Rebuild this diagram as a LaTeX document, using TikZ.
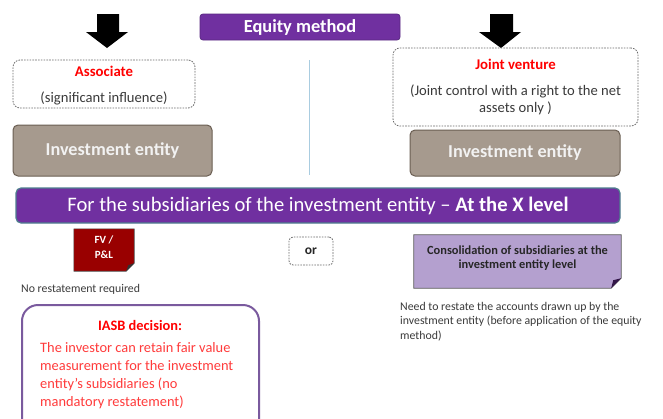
\documentclass[tikz,border=0pt]{standalone}
\usepackage{fontspec}
\setmainfont{Carlito}
\definecolor{purp}{HTML}{7030A0}
\definecolor{purpdark}{HTML}{5A2A82}
\definecolor{barborder}{HTML}{4E7F8E}
\definecolor{invfill}{HTML}{A69A8E}
\definecolor{invborder}{HTML}{6B5F53}
\definecolor{invtext}{HTML}{F2F2F2}
\definecolor{fvred}{HTML}{990000}
\definecolor{lav}{HTML}{B4A0CF}
\definecolor{dashgrey}{HTML}{6A6A6A}
\definecolor{txtgrey}{HTML}{3A3A3A}
\definecolor{vline}{HTML}{A9CCE0}
\definecolor{iasb}{HTML}{7A5A9E}
\definecolor{redtxt}{HTML}{FF0000}
\definecolor{lred}{HTML}{FF3B3B}
\tikzset{
  purplebox/.style={draw=purpdark, line width=0.8pt, fill=purp, rounded corners=3pt, text=white, inner sep=0pt},
  dashbox/.style={draw=dashgrey, dash pattern=on 1.6pt off 1.2pt, line width=0.8pt, rounded corners=7pt, inner sep=0pt},
  invbox/.style={draw=invborder, line width=1pt, fill=invfill, rounded corners=5pt, text=invtext, font=\fontsize{18.2}{20}\selectfont\bfseries, inner sep=0pt},
  plain/.style={inner sep=0pt, anchor=base west},
  ctext/.style={inner sep=0pt, anchor=base},
  subtxt/.style={ctext, text=txtgrey, font=\fontsize{14.6}{16}\selectfont},
  redhead/.style={ctext, text=redtxt, font=\fontsize{14.8}{16}\selectfont\bfseries},
  smalltxt/.style={plain, text=txtgrey, font=\fontsize{11.8}{14}\selectfont},
  iasbtxt/.style={plain, text=lred, font=\fontsize{14.4}{17}\selectfont},
  constxt/.style={ctext, text=black!85, font=\fontsize{12.4}{14}\selectfont\bfseries},
}
\begin{document}
\begin{tikzpicture}[x=1pt,y=-1pt]
\useasboundingbox (0,0) rectangle (663,418);
\clip (0,0) rectangle (663,418);
\fill[white] (0,0) rectangle (663,418);

% Equity method
\node[purplebox, minimum width=200pt, minimum height=26pt, font=\fontsize{18.4}{20}\selectfont\bfseries] (eq) at (300,27) {Equity method};

% Arrows
\fill[black] (97,14) -- (119,14) -- (119,32) -- (128,32) -- (107,48) -- (86,32) -- (97,32) -- cycle;
\fill[black] (490,14) -- (513,14) -- (513,32) -- (521,32) -- (501,48) -- (479,32) -- (490,32) -- cycle;

% Associate
\node[dashbox, minimum width=182pt, minimum height=48pt] (assoc) at (104,84) {};
\node[redhead] (assoct) at (104,76) {Associate};
\node[subtxt] (assocs) at (104,102) {(significant influence)};

% Joint venture
\node[dashbox, minimum width=245pt, minimum height=78pt] (jv) at (515.5,87) {};
\node[redhead] (jvt) at (515.5,69) {Joint venture};
\node[subtxt] (jvs1) at (515.5,95) {(Joint control with a right to the net};
\node[subtxt] (jvs2) at (515.5,112) {assets only )};

% vertical divider
\coordinate (vtop) at (309,60);
\coordinate (vbot) at (309,175);
\draw[vline, line width=0.8pt] (vtop) -- (vbot);

% Investment entities
\node[invbox, minimum width=199pt, minimum height=51pt] (inv1) at (112.5,150.5) {Investment entity};
\node[invbox, minimum width=210pt, minimum height=46pt] (inv2) at (515,153) {Investment entity};

% Big bar
\node[draw=barborder, line width=1.2pt, fill=purp, rounded corners=5pt, minimum width=604pt, minimum height=35pt, inner sep=0pt, text=white, font=\fontsize{20.6}{22}\selectfont] (bar) at (318,205.5) {For the subsidiaries of the investment entity -- \textbf{At the X level}};

% FV / P&L
\node[minimum width=60pt, minimum height=42pt, inner sep=0pt] (fv) at (104,250) {};
\filldraw[fill=fvred, draw=black!70, line width=0.6pt] (fv.north west) -- (fv.north east) -- ([yshift=8pt]fv.south east) -- ([xshift=-8pt]fv.south east) -- (fv.south west) -- cycle;
\fill[black!80] ([yshift=8pt]fv.south east) -- ([xshift=-8pt]fv.south east) -- ([xshift=-6pt,yshift=6pt]fv.south east) -- cycle;
\node[ctext, text=white, font=\fontsize{11}{13}\selectfont\bfseries] (fvt1) at (104,243) {FV /};
\node[ctext, text=white, font=\fontsize{11}{13}\selectfont\bfseries] (fvt2) at (104,258) {P\&L};

\node[smalltxt] (norest) at (21,292) {No restatement required};

% or
\node[dashbox, rounded corners=4pt, minimum width=44pt, minimum height=28pt, font=\fontsize{13.5}{15}\selectfont\bfseries, text=black!85] (or) at (311,251) {or};

% Consolidation
\node[minimum width=207pt, minimum height=53pt, inner sep=0pt] (cons) at (517.5,261.5) {};
\filldraw[fill=lav, draw=black!65, line width=0.8pt] (cons.north west) -- (cons.north east) -- ([yshift=10pt]cons.south east) -- ([xshift=-10pt]cons.south east) -- (cons.south west) -- cycle;
\fill[black!55!purp] ([yshift=10pt]cons.south east) -- ([xshift=-10pt]cons.south east) -- ([xshift=-8pt,yshift=8pt]cons.south east) -- cycle;
\node[constxt] (cons1) at (517.5,254) {Consolidation of subsidiaries at the};
\node[constxt] (cons2) at (517.5,268) {investment entity level};

\node[smalltxt] (need1) at (400,310) {Need to restate the accounts drawn up by the};
\node[smalltxt] (need2) at (400,324.5) {investment entity (before application of the equity};
\node[smalltxt] (need3) at (400,339) {method)};

% IASB
\node[draw=iasb, line width=2pt, rounded corners=16pt, minimum width=237pt, minimum height=130pt, inner sep=0pt] (iasbbox) at (140.5,370) {};
\node[redhead, font=\fontsize{14.4}{16}\selectfont\bfseries] (iasbt) at (140,330) {IASB decision:};
\node[iasbtxt] (iasb1) at (40,352) {The investor can retain fair value};
\node[iasbtxt] (iasb2) at (40,370) {measurement for the investment};
\node[iasbtxt] (iasb3) at (40,388) {entity’s subsidiaries (no};
\node[iasbtxt] (iasb4) at (40,406) {mandatory restatement)};
\end{tikzpicture}
\end{document}
